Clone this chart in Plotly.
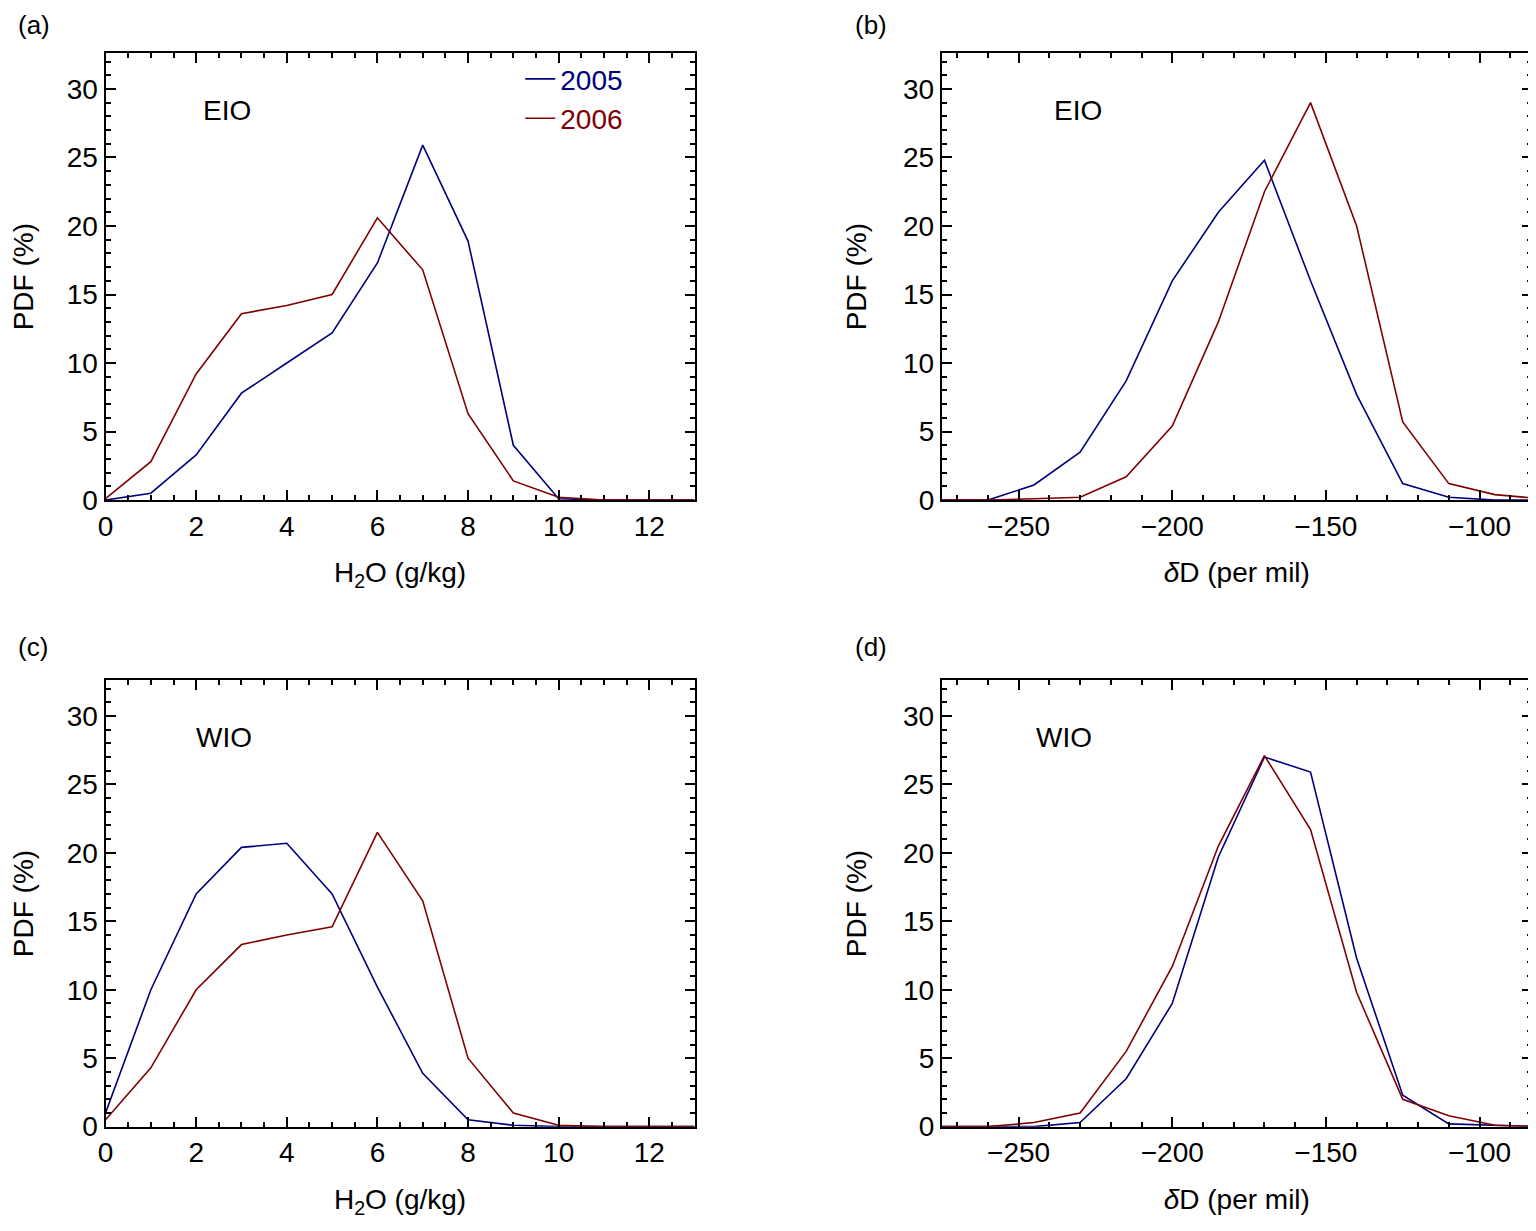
import plotly.graph_objects as go

h2o = list(range(0, 14))
dd = [-275, -260, -245, -230, -215, -200, -185, -170, -155, -140, -125, -110, -95, -80]

a05 = [0, 0.5, 3.3, 7.8, 10, 12.2, 17.3, 25.9, 18.9, 4, 0.1, 0, 0, 0]
a06 = [0.1, 2.8, 9.2, 13.6, 14.2, 15, 20.6, 16.8, 6.3, 1.4, 0.2, 0, 0, 0]
b05 = [0, 0, 1.1, 3.5, 8.7, 16, 21, 24.8, 16, 7.7, 1.2, 0.2, 0, 0]
b06 = [0, 0, 0.1, 0.2, 1.7, 5.4, 13, 22.5, 29, 20, 5.7, 1.2, 0.4, 0.1]
c05 = [1.0, 10, 17, 20.4, 20.7, 17, 10.2, 3.9, 0.5, 0.1, 0, 0, 0, 0]
c06 = [0.5, 4.3, 10, 13.3, 14, 14.6, 21.5, 16.5, 5, 1, 0.1, 0, 0, 0]
d05 = [0, 0, 0, 0.3, 3.5, 9, 19.7, 27, 25.9, 12.3, 2.3, 0.2, 0.1, 0]
d06 = [0, 0, 0.3, 1, 5.5, 11.7, 20.5, 27.1, 21.7, 9.8, 2, 0.8, 0.1, 0]

BLUE = "#00007f"
RED = "#7f0000"
FONT = "Liberation Sans"

fig = go.Figure()
panels = [
    ("x", "y", h2o, a05, a06, True),
    ("x2", "y2", dd, b05, b06, False),
    ("x3", "y3", h2o, c05, c06, False),
    ("x4", "y4", dd, d05, d06, False),
]
for xa, ya, xs, s05, s06, leg in panels:
    fig.add_trace(go.Scatter(x=xs, y=s05, mode="lines", line=dict(color=BLUE, width=1.6),
                             name=f"<span style='color:{BLUE}'>2005</span>", xaxis=xa, yaxis=ya, showlegend=leg))
    fig.add_trace(go.Scatter(x=xs, y=s06, mode="lines", line=dict(color=RED, width=1.6),
                             name=f"<span style='color:{RED}'>2006</span>", xaxis=xa, yaxis=ya, showlegend=leg))

xl = [0.0586, 0.4441]
xr = [0.6059, 0.9920]
yt = [0.5950, 0.9627]
yb = [0.0793, 0.4466]

def ax_common():
    return dict(showline=True, linecolor="black", linewidth=2, mirror="ticks", ticks="inside",
                ticklen=10, tickwidth=2, tickcolor="black", showgrid=False, zeroline=False,
                tickfont=dict(family=FONT, size=28, color="black"),
                minor=dict(ticks="inside", ticklen=5, tickwidth=1.5, tickcolor="black", showgrid=False))

h2o_title = dict(text="H<sub>2</sub>O (g/kg)", font=dict(family=FONT, size=28, color="black"), standoff=22)
dd_title = dict(text="<i>δ</i>D (per mil)", font=dict(family=FONT, size=28, color="black"), standoff=22)
y_title = dict(text="PDF (%)", font=dict(family=FONT, size=28, color="black"), standoff=28)

layout = dict(width=1536, height=1231, margin=dict(l=0, r=0, t=0, b=0),
              plot_bgcolor="white", paper_bgcolor="white")
for i, (xd, yd, kind) in enumerate([(xl, yt, "h"), (xr, yt, "d"), (xl, yb, "h"), (xr, yb, "d")]):
    n = "" if i == 0 else str(i + 1)
    xa = ax_common(); ya = ax_common()
    xa.update(domain=xd, anchor="y" + n)
    ya.update(domain=yd, anchor="x" + n, range=[0, 32.6], dtick=5, tick0=0, title=y_title)
    ya["minor"].update(dtick=1)
    if kind == "h":
        xa.update(range=[0, 13], dtick=2, tick0=0, title=h2o_title)
        xa["minor"].update(dtick=0.5)
    else:
        xa.update(range=[-275, -83], dtick=50, tick0=-250, title=dd_title, tickformat="d")
        xa["minor"].update(dtick=10)
    layout["xaxis" + n] = xa
    layout["yaxis" + n] = ya

fig.update_layout(**layout)
fig.update_layout(legend=dict(x=0.33, y=0.962, xanchor="left", yanchor="top", bgcolor="rgba(0,0,0,0)",
                              font=dict(family=FONT, size=28, color="black"), tracegroupgap=0))

ann = [("(a)", 0.0, 1.0), ("(b)", 0.548, 1.0), ("(c)", 0.0, 0.488), ("(d)", 0.548, 0.488)]
for t, x, y in ann:
    fig.add_annotation(text=t, x=x, y=y, xref="paper", yref="paper", showarrow=False,
                       xanchor="left", yanchor="top", font=dict(family=FONT, size=26, color="black"))
for t, xr_, yr_, x, y in [("EIO", "x", "y", 2.1, 28.4), ("EIO", "x2", "y2", -239, 28.4),
                          ("WIO", "x3", "y3", 1.95, 28.4), ("WIO", "x4", "y4", -245, 28.4)]:
    fig.add_annotation(text=t, x=x, y=y, xref=xr_, yref=yr_, showarrow=False, xanchor="left",
                       font=dict(family=FONT, size=28, color="black"))

fig.write_html("out.html")
